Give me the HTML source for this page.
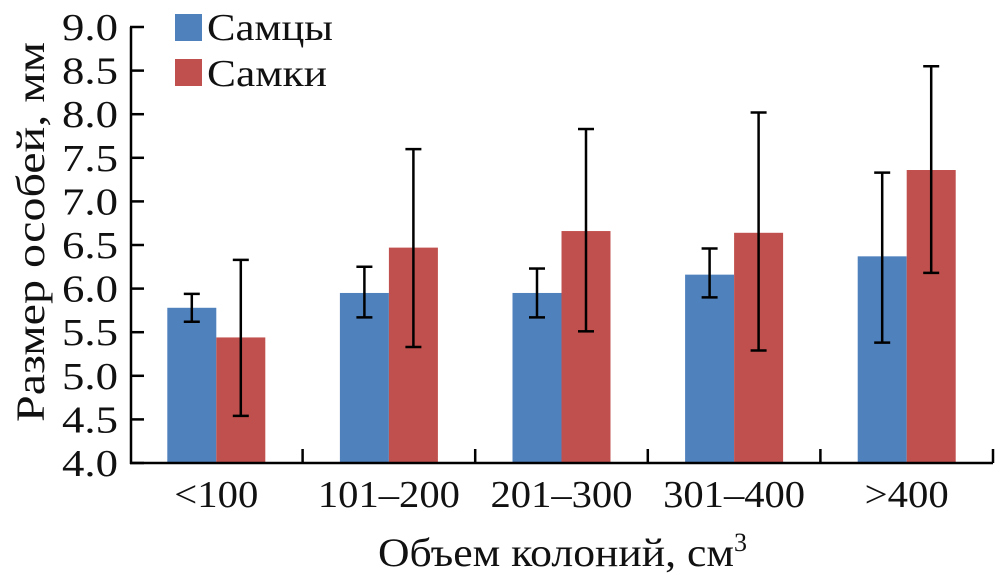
<!DOCTYPE html>
<html><head><meta charset="utf-8"><style>
body{margin:0;background:#fff}
text{font-family:"Liberation Serif",serif;fill:#111}
</style></head><body>
<svg id="c" width="997" height="581"></svg>
<script>
const categories=["<100","101–200","201–300","301–400",">400"];
const males=[5.78,5.95,5.95,6.16,6.37];
const females=[5.44,6.47,6.66,6.64,7.36];
const malesHi=[5.94,6.25,6.23,6.46,7.33];
const malesLo=[5.62,5.67,5.67,5.90,5.38];
const femalesHi=[6.33,7.60,7.83,8.02,8.55];
const femalesLo=[4.54,5.33,5.51,5.29,6.18];
const yTicks=[4.0,4.5,5.0,5.5,6.0,6.5,7.0,7.5,8.0,8.5,9.0];
const svg=document.getElementById('c');const NS='http://www.w3.org/2000/svg';
function mk(t,a,p){const e=document.createElementNS(NS,t);for(const k in a)e.setAttribute(k,a[k]);(p||svg).appendChild(e);return e;}
const x0=130,cw=172.6,bw=49;
const y=v=>463-(v-4)*87.2;
const cx=i=>x0+cw*i+cw/2;
categories.forEach((c,i)=>{
 const b=mk('rect',{x:cx(i)-bw,y:y(males[i]),width:bw,height:y(4)-y(males[i]),fill:'#4f81bd'});
 
 
 const r=mk('rect',{x:cx(i),y:y(females[i]),width:bw,height:y(4)-y(females[i]),fill:'#c0504d'});
 
 
 [[cx(i)-bw/2,malesHi[i],malesLo[i],'male'],[cx(i)+bw/2,femalesHi[i],femalesLo[i],'female']].forEach(([ex,h,l,n])=>{
  const g=mk('g',{stroke:'#000','stroke-width':2.5});
  
  
  mk('line',{x1:ex,x2:ex,y1:y(h),y2:y(l)},g);
  mk('line',{x1:ex-8,x2:ex+8,y1:y(h),y2:y(h)},g);
  mk('line',{x1:ex-8,x2:ex+8,y1:y(l),y2:y(l)},g);
 });
 const len=c.length>4?142:(c.length>3?84:80);
 const t=mk('text',{x:cx(i)-len/2,y:507,'font-size':38,textLength:len,lengthAdjust:'spacingAndGlyphs'});t.textContent=c;
 
 
 mk('line',{x1:x0+cw*(i+1),x2:x0+cw*(i+1),y1:463,y2:449,stroke:'#000','stroke-width':2.5});
});
mk('line',{x1:x0,x2:x0+cw*5,y1:463,y2:463,stroke:'#000','stroke-width':2.5});
mk('line',{x1:x0+1,x2:x0+1,y1:y(9),y2:464,stroke:'#000','stroke-width':2.5});
yTicks.forEach(v=>{
 mk('line',{x1:x0,x2:x0+14,y1:y(v),y2:y(v),stroke:'#000','stroke-width':2.5});
 const t=mk('text',{x:62,y:y(v)+13,'font-size':38,textLength:56,lengthAdjust:'spacingAndGlyphs'});t.textContent=v.toFixed(1);
 
 
});
</script>
<svg width="997" height="581" style="position:absolute;left:0;top:0">
<g>
<rect x="175" y="14" width="27" height="27" fill="#4f81bd"/>
<text x="207" y="40" font-size="38" textLength="126" lengthAdjust="spacingAndGlyphs">Самцы</text>
<rect x="175" y="59" width="27" height="27" fill="#c0504d"/>
<text x="207" y="86" font-size="38" textLength="120" lengthAdjust="spacingAndGlyphs">Самки</text>
</g>
<text transform="translate(44,422) rotate(-90)" font-size="40" textLength="380" lengthAdjust="spacingAndGlyphs">Размер особей, мм</text>
<text x="378" y="566" font-size="40"><tspan textLength="356" lengthAdjust="spacingAndGlyphs">Объем колоний, см</tspan><tspan font-size="26" dy="-15">3</tspan></text>
</svg>
</body></html>
